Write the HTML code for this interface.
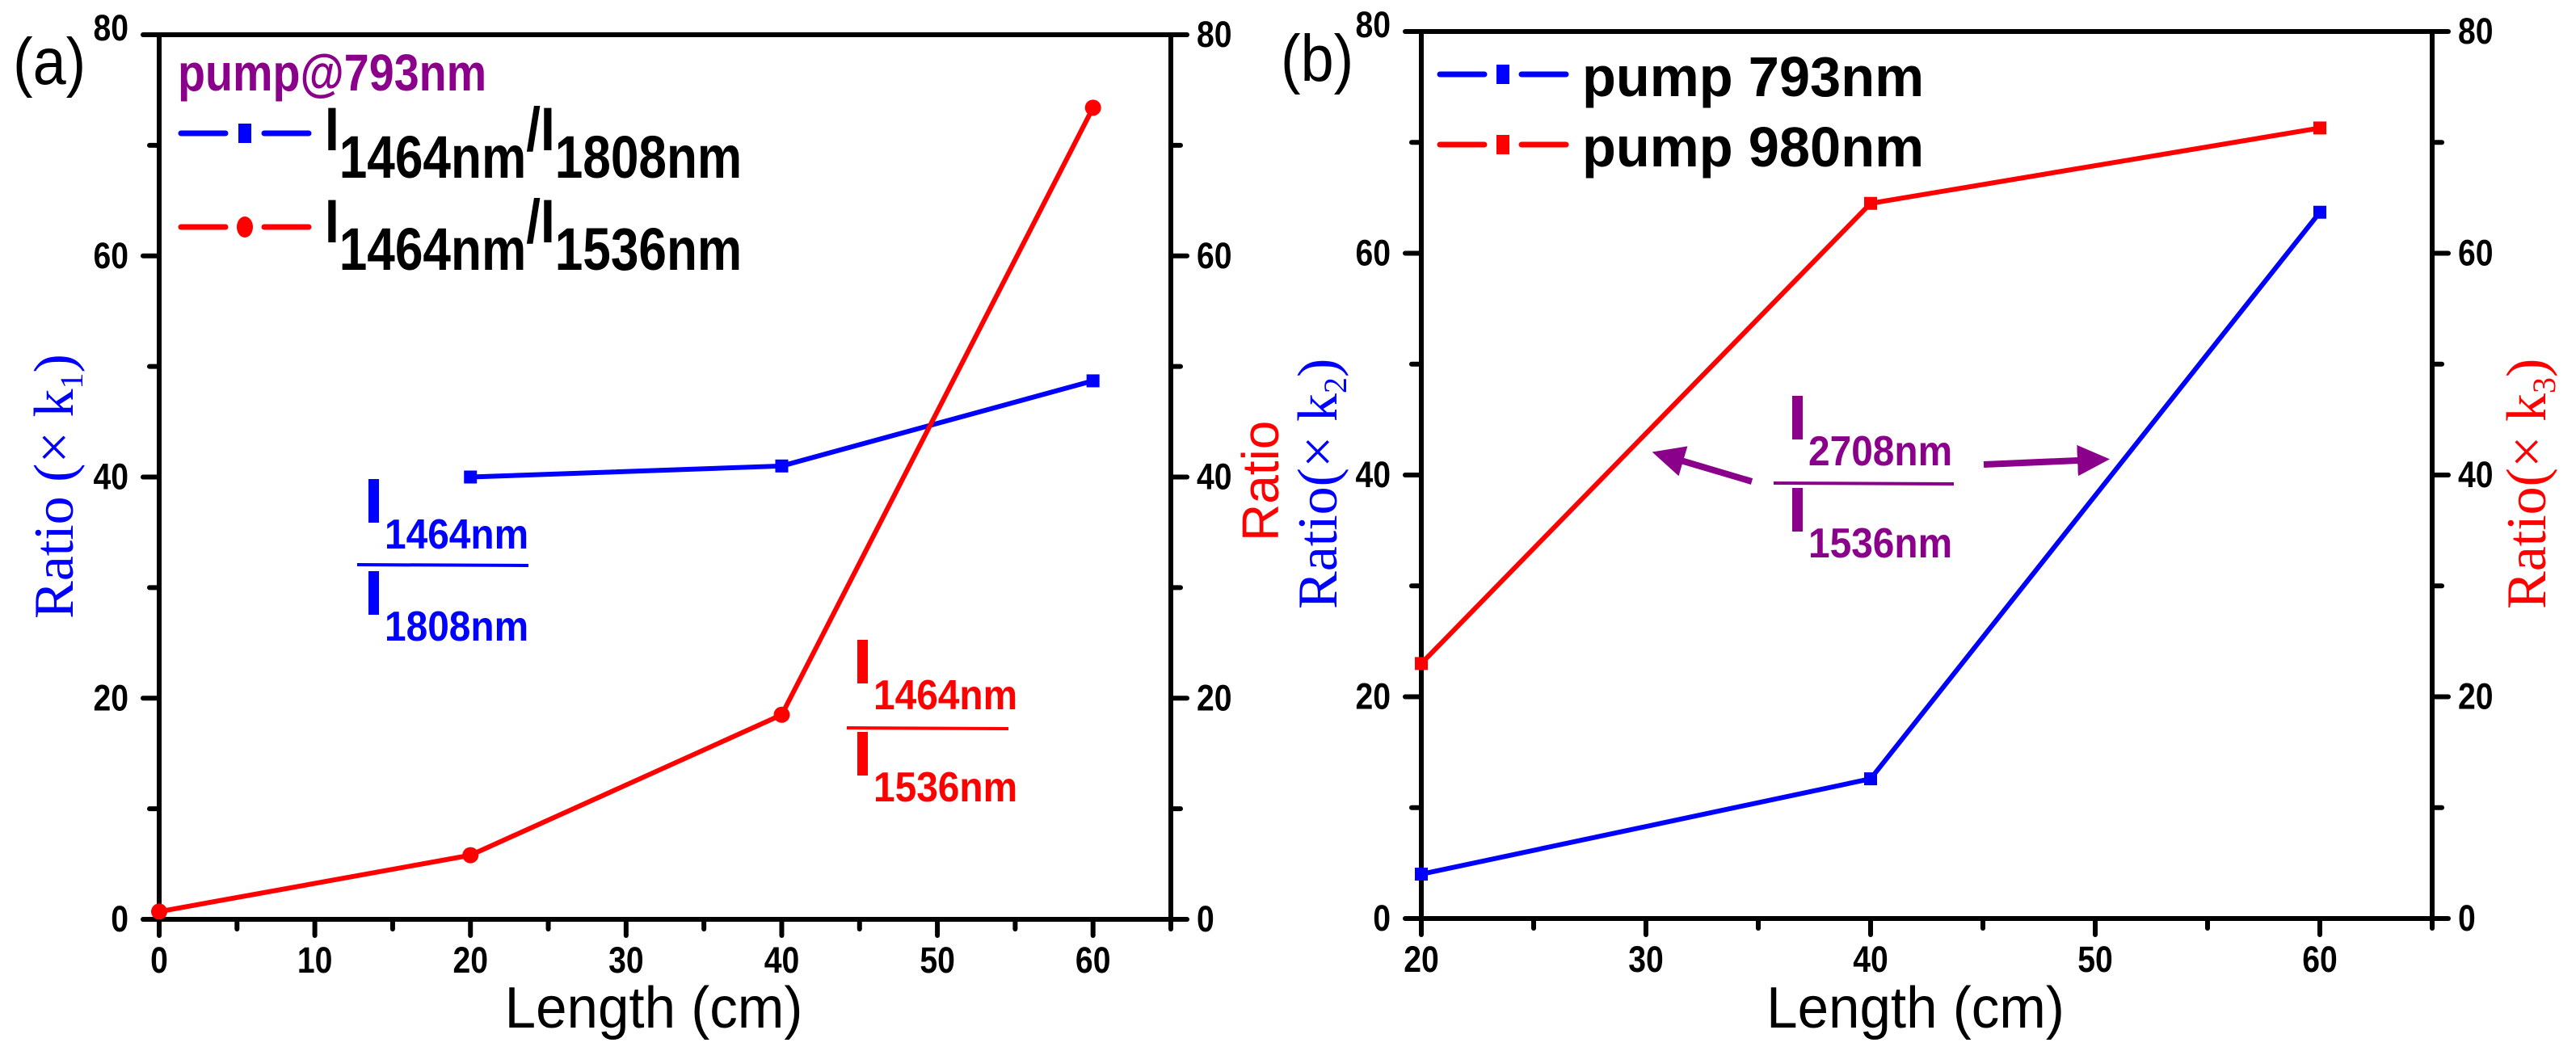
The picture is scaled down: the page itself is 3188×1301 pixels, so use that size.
<!DOCTYPE html>
<html><head><meta charset="utf-8"><style>
html,body{margin:0;padding:0;background:#fff;}
svg{display:block;}
text{font-family:"Liberation Sans",sans-serif;}
</style></head><body>
<svg id="fig" width="3188" height="1301" viewBox="0 0 3188 1301" xmlns="http://www.w3.org/2000/svg">
<defs>
<marker id="ah" markerWidth="6" markerHeight="6" refX="3" refY="3" orient="auto" markerUnits="strokeWidth"><path d="M0,0.6 L5,3 L0,5.4 Z" fill="#8B008B"/></marker>
</defs>
</svg>
<script>
// ---- Panel (a) data ----
const aBlueX = [20, 40, 60];
const aBlueY = [40, 41, 48.7];
const aRedX = [0, 20, 40, 60];
const aRedY = [0.7, 5.8, 18.5, 73.4];
const aXTicks = [0, 10, 20, 30, 40, 50, 60];
const aYTicks = [0, 20, 40, 60, 80];
// ---- Panel (b) data ----
const bBlueX = [20, 40, 60];
const bBlueY = [4, 12.6, 63.7];
const bRedX = [20, 40, 60];
const bRedY = [23, 64.5, 71.3];
const bXTicks = [20, 30, 40, 50, 60];
const bYTicks = [0, 20, 40, 60, 80];

const NS = "http://www.w3.org/2000/svg";
const svg = document.getElementById('fig');
function mk(tag, attrs, parent) {
  const e = document.createElementNS(NS, tag);
  for (const k in attrs) e.setAttribute(k, attrs[k]);
  (parent || svg).appendChild(e);
  return e;
}
function txt(str, x, y, size, opts, parent) {
  opts = opts || {};
  const sx = opts.sx || 1;
  const g = mk('g', {transform: 'translate(' + x + ',' + y + ')' + (opts.rot ? ' rotate(' + opts.rot + ')' : '') + ' scale(' + sx + ',1)'}, parent);
  const t = mk('text', {x: 0, y: 0, 'font-size': size, fill: opts.fill || '#000',
    'font-weight': opts.bold ? 'bold' : 'normal', 'text-anchor': opts.anchor || 'start'}, g);
  if (opts.serif) t.setAttribute('style', 'font-family:"Liberation Serif",serif');
  t.textContent = str;
  return {g: g, t: t};
}

function panel(P) {
  const x = v => P.x0 + (v - P.xmin) * (P.x1 - P.x0) / (P.xmax - P.xmin);
  const y = v => P.y0 - v * (P.y0 - P.y1) / 80;
  const g = mk('g', {});
  
  
  const fr = mk('rect', {x: P.x0, y: P.y1, width: P.x1 - P.x0, height: P.y0 - P.y1, fill: 'none', stroke: '#000', 'stroke-width': 6}, g);
  
  
  for (let v = P.xmin; v <= P.xmax; v += 5) {
    const major = P.xTicks.indexOf(v) >= 0;
    const tk = mk('line', {x1: x(v), x2: x(v), y1: P.y0, y2: P.y0 + (major ? 20 : 12), stroke: '#000', 'stroke-width': 6, 'stroke-linecap': 'round'}, g);
    
    
  }
  P.xTicks.forEach(v => {
    const l = txt(String(v), x(v), P.y0 + 66, 45, {bold: true, anchor: 'middle', sx: 0.87}, g);
    
    
  });
  for (let v = 0; v <= 80; v += 10) {
    const major = P.yTicks.indexOf(v) >= 0;
    const len = major ? 20 : 12;
    const tl = mk('line', {x1: P.x0 - len, x2: P.x0, y1: y(v), y2: y(v), stroke: '#000', 'stroke-width': 6, 'stroke-linecap': 'round'}, g);
    
    
    const tr = mk('line', {x1: P.x1, x2: P.x1 + len, y1: y(v), y2: y(v), stroke: '#000', 'stroke-width': 6, 'stroke-linecap': 'round'}, g);
    
    
  }
  P.yTicks.forEach(v => {
    const dy = v === 80 ? 7 : 15;
    const l1 = txt(String(v), P.x0 - 38, y(v) + dy, 45, {bold: true, anchor: 'end', sx: 0.87}, g);
    
    
    const l2 = txt(String(v), P.x1 + 32, y(v) + 15, 45, {bold: true, anchor: 'start', sx: 0.87}, g);
    
    
  });
  const xt = txt('Length (cm)', (P.x0 + P.x1) / 2 - 14, 1272, 72, {anchor: 'middle', sx: 0.96}, g);
  
  
  P.series.forEach(s => {
    const pts = s.xs.map((v, i) => x(v) + ',' + y(s.ys[i])).join(' ');
    const pl = mk('polyline', {points: pts, fill: 'none', stroke: s.color, 'stroke-width': 6, 'stroke-linejoin': 'round'}, g);
    
    
    s.xs.forEach((v, i) => {
      let m;
      if (s.marker === 'circle') m = mk('circle', {cx: x(v), cy: y(s.ys[i]), r: 10, fill: s.color}, g);
      else m = mk('rect', {x: x(v) - 8, y: y(s.ys[i]) - 8, width: 16, height: 16, fill: s.color}, g);
      
      
    });
  });
}

panel({name: 'panel-a', x0: 197, x1: 1449, y0: 1138, y1: 43, xmin: 0, xmax: 65, xTicks: aXTicks, yTicks: aYTicks,
  series: [{name: 'ratio-1464-1808', xs: aBlueX, ys: aBlueY, color: '#0000FF', marker: 'square'},
           {name: 'ratio-1464-1536', xs: aRedX, ys: aRedY, color: '#FF0000', marker: 'circle'}]});
panel({name: 'panel-b', x0: 1759, x1: 3010, y0: 1137, y1: 39, xmin: 20, xmax: 65, xTicks: bXTicks, yTicks: bYTicks,
  series: [{name: 'pump-793', xs: bBlueX, ys: bBlueY, color: '#0000FF', marker: 'square'},
           {name: 'pump-980', xs: bRedX, ys: bRedY, color: '#FF0000', marker: 'square'}]});

let e;
e = txt('(a)', 16, 104, 82, {sx: 0.9});  
e = txt('(b)', 1585, 100, 82, {sx: 0.9});  

e = txt('Ratio (× k', 90, 766, 70, {serif: true, fill: '#0000FF', rot: -90});  
let ts = mk('tspan', {'font-size': 40, dy: 12}, e.t); ts.textContent = '1';
ts = mk('tspan', {dy: -12}, e.t); ts.textContent = ')';
e = txt('Ratio', 1582, 670, 64, {fill: '#FF0000', rot: -90});  
e = txt('Ratio(× k', 1654, 754, 70, {serif: true, fill: '#0000FF', rot: -90});  
ts = mk('tspan', {'font-size': 40, dy: 12}, e.t); ts.textContent = '2';
ts = mk('tspan', {dy: -12}, e.t); ts.textContent = ')';
e = txt('Ratio(× k', 3150, 754, 70, {serif: true, fill: '#FF0000', rot: -90});  
ts = mk('tspan', {'font-size': 40, dy: 12}, e.t); ts.textContent = '3';
ts = mk('tspan', {dy: -12}, e.t); ts.textContent = ')';

function frac(name, xI, topY, color, s1, s2, lineX1, lineX2, lineY) {
  const g = mk('g', {});
  
  
  [[topY, s1], [topY + 114, s2]].forEach(([ty, s]) => {
    const r = mk('rect', {x: xI, y: ty, width: 13, height: 54, fill: color}, g);
    
    
    const t = txt(s, xI + 20, ty + 86, 52, {bold: true, fill: color, sx: 0.92}, g);
    
    
  });
  const l = mk('line', {x1: lineX1, x2: lineX2, y1: lineY, y2: lineY + 1, stroke: color, 'stroke-width': 4}, g);
  
  
}
frac('annotation-1464-1808', 456, 593, '#0000FF', '1464nm', '1808nm', 442, 654, 699);
frac('annotation-1464-1536', 1061, 792, '#FF0000', '1464nm', '1536nm', 1048, 1248, 901);
frac('annotation-2708-1536', 2218, 490, '#8B008B', '2708nm', '1536nm', 2195, 2418, 598);

e = mk('line', {x1: 2168, y1: 596, x2: 2060, y2: 564, stroke: '#8B008B', 'stroke-width': 8, 'marker-end': 'url(#ah)'});
 
e = mk('line', {x1: 2455, y1: 575, x2: 2595, y2: 569, stroke: '#8B008B', 'stroke-width': 8, 'marker-end': 'url(#ah)'});
 

e = txt('pump@793nm', 220, 112, 64, {bold: true, fill: '#8B008B', sx: 0.87});  
function legendEntry(name, x0, x1, cy, color, marker, label, sub1, sub2, tx, base) {
  const g = mk('g', {});
  
  
  mk('line', {x1: x0, x2: x0 + 55, y1: cy, y2: cy, stroke: color, 'stroke-width': 7, 'stroke-linecap': 'round'}, g);
  mk('line', {x1: x1 - 55, x2: x1, y1: cy, y2: cy, stroke: color, 'stroke-width': 7, 'stroke-linecap': 'round'}, g);
  const mx = (x0 + x1) / 2;
  if (marker === 'circle') mk('ellipse', {cx: mx, cy: cy, rx: 10, ry: 13, fill: color}, g);
  else mk('rect', {x: mx - 8, y: cy - 12, width: 16, height: 24, fill: color}, g);
  if (label) {
    const t = txt(label, tx, base, 70, {bold: true, sx: 0.98}, g);
    
    
  } else {
    const t = txt('I', tx, base - 34, 76, {bold: true, sx: 0.84}, g);
    const a = mk('tspan', {'font-size': 74, dy: 34}, t.t); a.textContent = sub1;
    const b = mk('tspan', {'font-size': 76, dy: -34}, t.t); b.textContent = '/I';
    const c = mk('tspan', {'font-size': 74, dy: 34}, t.t); c.textContent = sub2;
    
    
  }
}
legendEntry('legend-entry-1464-1808', 224, 382, 165, '#0000FF', 'square', null, '1464nm', '1808nm', 402, 220);
legendEntry('legend-entry-1464-1536', 224, 382, 281, '#FF0000', 'circle', null, '1464nm', '1536nm', 402, 334);
legendEntry('legend-entry-pump-793', 1782, 1938, 92, '#0000FF', 'square', 'pump 793nm', null, null, 1958, 119);
legendEntry('legend-entry-pump-980', 1782, 1938, 179, '#FF0000', 'square', 'pump 980nm', null, null, 1958, 206);
</script>
</body></html>
